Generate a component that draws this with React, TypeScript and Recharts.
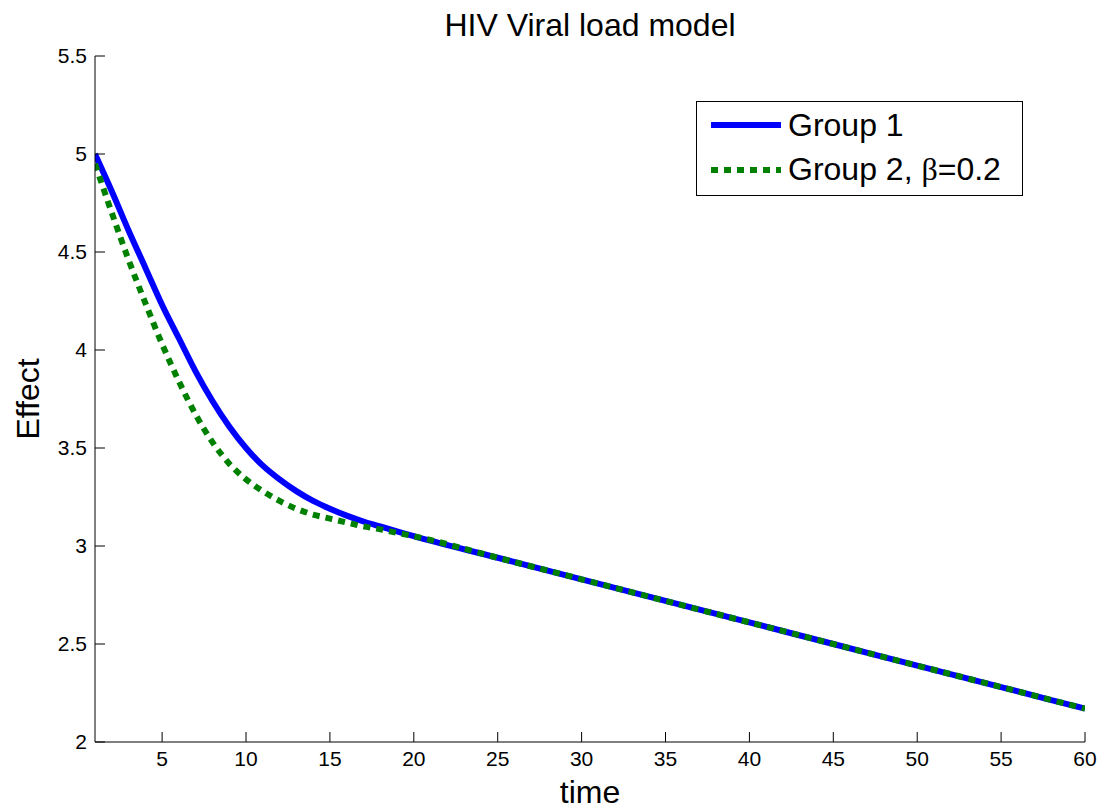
import React from 'react';
import { LineChart, Line, XAxis, YAxis, Legend } from 'recharts';

const times = [1, 2, 3, 4, 5, 6, 7, 8, 9, 10, 11, 12, 13, 14, 15, 16, 17, 18, 19, 20, 25, 30, 35, 40, 45, 50, 55, 60];
const group1 = [5.0, 4.81, 4.61, 4.42, 4.23, 4.06, 3.89, 3.74, 3.61, 3.5, 3.41, 3.34, 3.28, 3.23, 3.19, 3.155, 3.125, 3.1, 3.075, 3.05, 2.94, 2.83, 2.72, 2.61, 2.5, 2.39, 2.28, 2.17];
const group2 = [4.95, 4.7, 4.46, 4.24, 4.03, 3.84, 3.67, 3.53, 3.42, 3.34, 3.28, 3.23, 3.19, 3.16, 3.14, 3.12, 3.1, 3.085, 3.067, 3.05, 2.94, 2.83, 2.72, 2.61, 2.5, 2.39, 2.28, 2.17];
const xTicks = [5, 10, 15, 20, 25, 30, 35, 40, 45, 50, 55, 60];
const yTicks = [2, 2.5, 3, 3.5, 4, 4.5, 5, 5.5];

const data = times.map((t, i) => ({ t, g1: group1[i], g2: group2[i] }));

const font = '"Liberation Sans", Arial, Helvetica, sans-serif';

const LegendBox = () => (
  <div
    style={{
      width: 325,
      height: 93,
      border: '1px solid #000',
      background: '#fff',
      fontFamily: font,
      fontSize: 32,
      color: '#000',
      position: 'relative',
      textAlign: 'left',
    }}
  >
    <svg width={90} height={93} style={{ position: 'absolute', left: 0, top: 0 }}>
      <line x1={14} x2={84} y1={23} y2={23} stroke="#0000ff" strokeWidth={6} />
      <line x1={14} x2={84} y1={68} y2={68} stroke="#008000" strokeWidth={6} strokeDasharray="7 6" />
    </svg>
    <div style={{ position: 'absolute', left: 91, top: 4, lineHeight: '38px', whiteSpace: 'nowrap' }}>Group 1</div>
    <div style={{ position: 'absolute', left: 91, top: 48, lineHeight: '38px', whiteSpace: 'nowrap' }}>
      Group 2, <span style={{ fontFamily: '"Liberation Serif", "DejaVu Serif", serif' }}>β</span>=0.2
    </div>
  </div>
);

export default function App() {
  return (
    <div style={{ position: 'absolute', left: 0, top: 0, width: 1100, height: 811, background: '#fff' }}>
      <div
        style={{
          position: 'absolute',
          left: 95,
          width: 990,
          top: 7,
          textAlign: 'center',
          fontFamily: font,
          fontSize: 32,
          lineHeight: '36px',
          color: '#000',
          zIndex: 1,
        }}
      >
        HIV Viral load model
      </div>
      <LineChart width={1100} height={811} data={data} margin={{ top: 56, right: 15, bottom: 4, left: 0 }}>
        <XAxis
          dataKey="t"
          type="number"
          domain={[1, 60]}
          ticks={xTicks}
          allowDataOverflow
          height={65}
          tickSize={-10}
          tickMargin={19}
          stroke="#000"
          tick={{ fill: '#000', fontSize: 21, fontFamily: font }}
          label={{ value: 'time', position: 'insideBottom', offset: 4, fill: '#000', fontSize: 32, fontFamily: font }}
        />
        <YAxis
          type="number"
          domain={[2, 5.5]}
          ticks={yTicks}
          allowDataOverflow
          width={95}
          tickSize={-10}
          tickMargin={18}
          stroke="#000"
          tick={{ fill: '#000', fontSize: 21, fontFamily: font }}
          label={{
            value: 'Effect',
            angle: -90,
            position: 'insideLeft',
            offset: 28,
            fill: '#000',
            fontSize: 32,
            fontFamily: font,
            style: { textAnchor: 'middle' },
          }}
        />
        <Legend
          layout="horizontal"
          verticalAlign="middle"
          align="center"
          content={() => <LegendBox />}
          wrapperStyle={{ position: 'absolute', left: 696, top: 101, width: 327, height: 95 }}
        />
        <Line dataKey="g1" type="monotone" stroke="#0000ff" strokeWidth={6} dot={false} isAnimationActive={false} />
        <Line
          dataKey="g2"
          type="monotone"
          stroke="#008000"
          strokeWidth={6}
          strokeDasharray="7 6"
          dot={false}
          isAnimationActive={false}
        />
      </LineChart>
    </div>
  );
}
